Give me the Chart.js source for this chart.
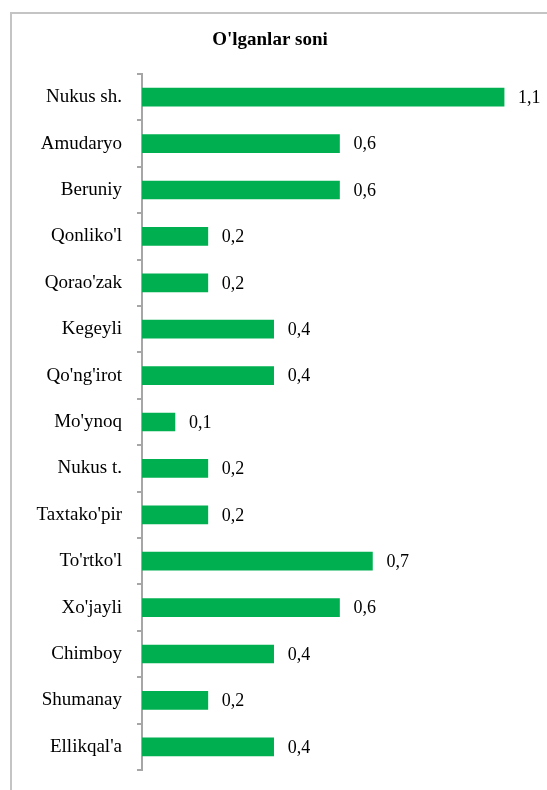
<!DOCTYPE html>
<html>
<head>
<meta charset="utf-8">
<script src="https://cdn.jsdelivr.net/npm/chart.js@4"></script>
<style>
  body { margin: 0; background: #ffffff; }
  canvas { display: block; }
</style>
</head>
<body>
<canvas id="myChart" width="547" height="790"></canvas>
<script>
const chartTitle = "O'lganlar soni";
const districts  = ["Nukus sh.", "Amudaryo", "Beruniy", "Qonliko'l", "Qorao'zak", "Kegeyli",
                    "Qo'ng'irot", "Mo'ynoq", "Nukus t.", "Taxtako'pir", "To'rtko'l", "Xo'jayli",
                    "Chimboy", "Shumanay", "Ellikqal'a"];
const deaths     = [1.1, 0.6, 0.6, 0.2, 0.2, 0.4, 0.4, 0.1, 0.2, 0.2, 0.7, 0.6, 0.4, 0.2, 0.4];

// frame + title + value labels
const decor = {
    id: "decor",
    beforeDraw(chart) {
        const ctx = chart.ctx;
        ctx.save();
        ctx.strokeStyle = "#c4c4c4";
        ctx.lineWidth = 2;
        ctx.strokeRect(11, 13, 560, 800);
        ctx.fillStyle = "#000000";
        ctx.font = "bold 19px 'Liberation Serif'";
        ctx.textAlign = "center";
        ctx.textBaseline = "middle";
        ctx.fillText(chartTitle, 270, 40);
        ctx.restore();
    },
    afterDatasetsDraw(chart) {
        const ctx = chart.ctx;
        const meta = chart.getDatasetMeta(0);
        ctx.save();
        ctx.fillStyle = "#000000";
        ctx.font = "18px 'Liberation Serif'";
        ctx.textAlign = "left";
        ctx.textBaseline = "middle";
        meta.data.forEach((bar, i) => {
            ctx.fillText(String(deaths[i]).replace(".", ","), bar.x + 14, bar.y + 1);
        });
        ctx.restore();
    }
};

new Chart(document.getElementById("myChart").getContext("2d"), {
    type: "bar",
    data: {
        labels: districts,
        datasets: [{
            data: deaths,
            backgroundColor: "#00b050",
            borderWidth: 0,
            barThickness: 18,
        }]
    },
    options: {
        indexAxis: "y",
        responsive: false,
        animation: false,
        layout: { padding: { top: 74, bottom: 20, left: 0, right: 10 } },
        plugins: {
            legend: { display: false },
            title: { display: false },
            tooltip: { enabled: false },
        },
        scales: {
            x: {
                display: false,
                min: 0,
                max: 1.2,
            },
            y: {
                afterFit(scale) {
                    scale.width = 142;
                    scale.paddingTop = 0;
                    scale.paddingBottom = 0;
                },
                border: { display: true, color: "#a6a6a6", width: 2 },
                grid: {
                    offset: true,
                    drawOnChartArea: false,
                    drawTicks: true,
                    tickLength: 5,
                    color: "#a6a6a6",
                    lineWidth: 2,
                },
                ticks: {
                    padding: 15,
                    color: "#000000",
                    font: { family: "Liberation Serif", size: 19 },
                }
            }
        }
    },
    plugins: [decor]
});
</script>
</body>
</html>
